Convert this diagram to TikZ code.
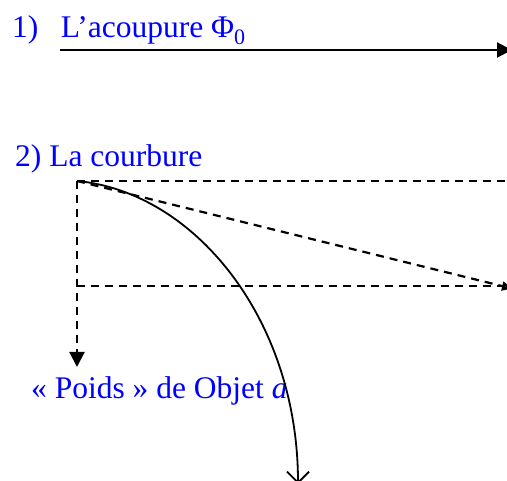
\documentclass[tikz,border=0pt]{standalone}
\usepackage{fontspec}
\setmainfont{Liberation Serif}
\usetikzlibrary{arrows.meta}
\begin{document}
\begin{tikzpicture}[x=1pt,y=-1pt,
  lbl/.style={anchor=base west, inner sep=0pt, text=blue, font=\fontsize{31.5}{38}\selectfont},
  solidline/.style={line width=2pt},
  dashline/.style={line width=2.2pt, dash pattern=on 8pt off 6pt},
  filltip/.style={-{Triangle[length=15pt,width=15pt]}}
]
\useasboundingbox (0,0) rectangle (507,481);

% texts
\node[lbl] (t1) at (12,38) {1)\hspace{22.5pt}L’acoupure Φ\textsubscript{0}};
\node[lbl] (t2) at (15,167) {2) La courbure};
\node[lbl] (t3) at (31,399) {« Poids » de Objet \textit{a}};

% coordinates
\coordinate (a1) at (60,50);
\coordinate (a2) at (512,50);
\coordinate (O) at (77,181);
\coordinate (topR) at (510,181);
\coordinate (vEnd) at (77,367);
\coordinate (mL) at (77,286);
\coordinate (mR) at (510,286);
\coordinate (dEnd) at (512,288.5);
\coordinate (cEnd) at (298,484);

% 1) arrow
\draw[solidline, filltip] (a1) -- (a2);

% 2) dashed construction
\draw[dashline] (O) -- (topR);
\draw[dashline] (mL) -- (mR);
\draw[dashline, filltip] (O) -- (vEnd);
\draw[dashline, -{Triangle[length=10pt,width=9pt]}] (O) -- (dEnd);

% curve
\draw[line width=1.8pt, -{Straight Barb[length=11pt,width=22pt]}]
  (O) .. controls (195,192) and (298,320) .. (cEnd);
\end{tikzpicture}
\end{document}
